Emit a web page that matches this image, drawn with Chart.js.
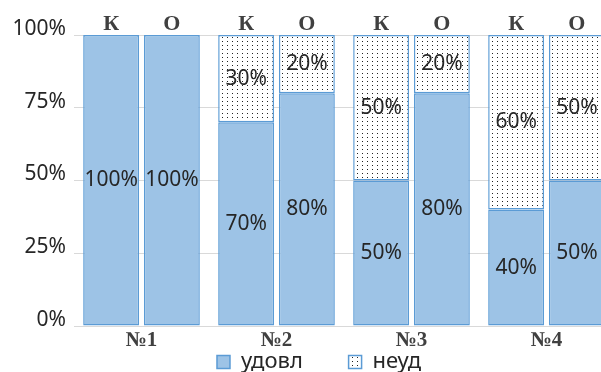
<!doctype html>
<html lang="ru">

<head>
  <meta charset="utf-8">
  <title>удовл / неуд</title>
  <script src="https://cdn.jsdelivr.net/npm/chart.js@4"></script>
  <style>
    body { margin: 0; overflow: hidden; background: #fff; }
    #wrap { width: 601px; height: 372px; overflow: hidden; }
  </style>
</head>

<body>
  <!-- canvas is a bit wider/taller than the window: the last bar and the legend are cut, as in the picture -->
  <div id="wrap"><canvas id="myChart" width="622" height="383"></canvas></div>
  <script>
    const groups = ['№1', '№2', '№3', '№4'];
    const barLetters = ['К', 'О'];
    const udovlK = [100, 70, 50, 40];
    const neudK = [0, 30, 50, 60];
    const udovlO = [100, 80, 80, 50];
    const neudO = [0, 20, 20, 50];
    const yTicks = [0, 25, 50, 75, 100];

    const canvas = document.getElementById('myChart');
    const ctx = canvas.getContext('2d');

    // dotted fill for "неуд"
    const tile = document.createElement('canvas');
    tile.width = 5; tile.height = 4;
    const t = tile.getContext('2d');
    t.fillStyle = '#fff';
    t.fillRect(0, 0, 5, 4);
    t.fillStyle = '#222';
    t.fillRect(2, 1, 1, 1);
    const dots = ctx.createPattern(tile, 'repeat');

    const blue = '#9dc3e6';
    const edge = '#5b9bd5';
    const common = {
      borderColor: edge, borderWidth: 1.5, borderSkipped: false,
      categoryPercentage: 0.9, barPercentage: 0.92
    };

    // percentages in the segments + К / О above the bars
    const labelPlugin = {
      id: 'barLabels',
      afterLayout(chart) {
        // legend sits a little right of centre in the picture
        chart.legend.left += 12;
        chart.legend.right += 12;
      },
      afterDatasetsDraw(chart) {
        const c = chart.ctx;
        c.save();
        c.textAlign = 'center';
        c.textBaseline = 'middle';
        c.font = '21px "Noto Sans"';
        c.fillStyle = '#262626';
        chart.data.datasets.forEach((ds, i) => {
          chart.getDatasetMeta(i).data.forEach((bar, j) => {
            const v = ds.data[j];
            if (!v) return;
            c.fillText(v + '%', bar.x, (bar.y + bar.base) / 2);
          });
        });
        c.font = 'bold 22px "Liberation Serif"';
        c.fillStyle = '#404040';
        c.textBaseline = 'alphabetic';
        [0, 2].forEach((di, k) => {
          chart.getDatasetMeta(di).data.forEach(bar => {
            c.fillText(barLetters[k], bar.x, chart.chartArea.top - 5);
          });
        });
        c.restore();
      }
    };

    globalThis.chart = new Chart(canvas, {
      type: 'bar',
      data: {
        labels: groups,
        datasets: [
          { label: 'удовл', data: udovlK, backgroundColor: blue, stack: 'К', ...common },
          { label: 'неуд', data: neudK, backgroundColor: dots, stack: 'К', ...common },
          { label: 'удовл', data: udovlO, backgroundColor: blue, stack: 'О', ...common },
          { label: 'неуд', data: neudO, backgroundColor: dots, stack: 'О', ...common }
        ]
      },
      options: {
        responsive: false,
        animation: false,
        devicePixelRatio: 1,
        layout: { padding: { top: 35, right: 8, left: 0, bottom: 0 } },
        scales: {
          x: {
            stacked: true,
            grid: { display: false, drawTicks: false },
            border: { display: false },
            ticks: { padding: 2, color: '#404040', font: { family: 'Liberation Serif', size: 21, weight: 'bold' } },
            afterFit(scale) { scale.height = 25; }
          },
          y: {
            stacked: true,
            min: 0,
            max: 100,
            afterBuildTicks(scale) { scale.ticks = yTicks.map(v => ({ value: v })); },
            grid: { color: '#d9d9d9', drawTicks: false },
            border: { display: false },
            ticks: {
              padding: 8,
              labelOffset: -6,
              color: '#262626',
              font: { family: 'Noto Sans', size: 21 },
              callback: v => v + '%'
            },
            afterFit(scale) { scale.width = 74; }
          }
        },
        plugins: {
          tooltip: { enabled: false },
          legend: {
            position: 'bottom',
            labels: {
              color: '#262626',
              font: { family: 'Noto Sans', size: 22 },
              boxWidth: 13,
              boxHeight: 13,
              padding: 0,
              generateLabels(chart) {
                const items = Chart.defaults.plugins.legend.labels.generateLabels(chart).filter(it => it.datasetIndex < 2);
                items[0].text = items[0].text + '        ';
                return items;
              }
            }
          }
        }
      },
      plugins: [labelPlugin]
    });
  </script>
</body>

</html>
